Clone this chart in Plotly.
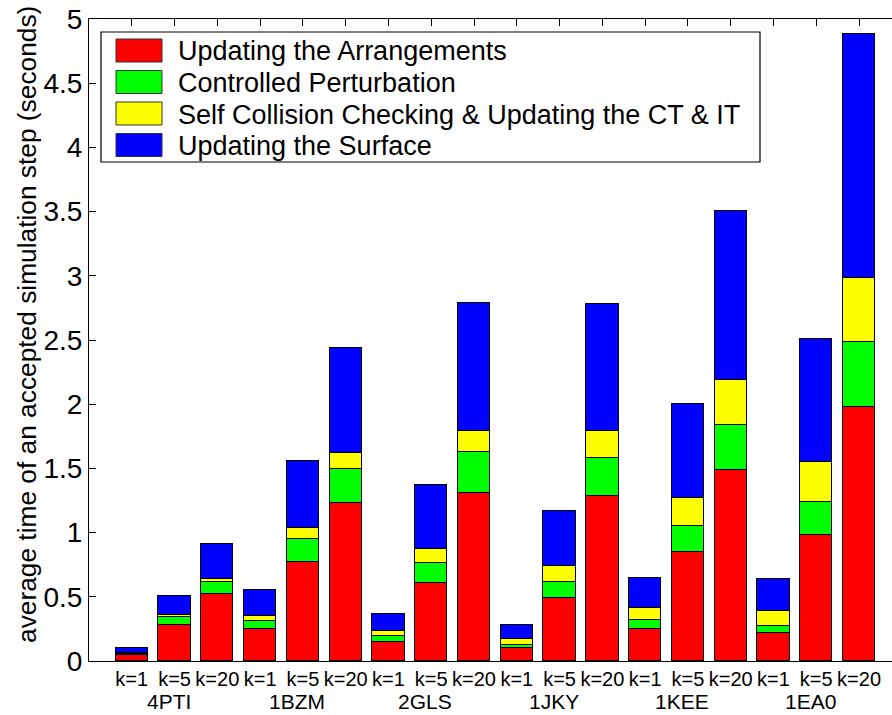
import plotly.graph_objects as go

# Stacked timing breakdown per protein and k value
proteins = ["4PTI", "1BZM", "2GLS", "1JKY", "1KEE", "1EA0"]
k_labels = ["k=1", "k=5", "k=20"]

series_names = [
    "Updating the Arrangements",
    "Controlled Perturbation",
    "Self Collision Checking & Updating the CT & IT",
    "Updating the Surface",
]
series_colors = ["#FF0000", "#00FF00", "#FFFF00", "#0000FF"]

arrangements = [0.044, 0.28, 0.52, 0.25, 0.774, 1.228, 0.15, 0.61, 1.308,
                0.099, 0.491, 1.283, 0.252, 0.851, 1.487, 0.215, 0.981, 1.976]
perturbation = [0.012, 0.06, 0.096, 0.063, 0.176, 0.265, 0.042, 0.156, 0.317,
                0.023, 0.124, 0.298, 0.065, 0.203, 0.351, 0.058, 0.26, 0.506]
collision = [0.01, 0.018, 0.024, 0.04, 0.088, 0.124, 0.042, 0.109, 0.166,
             0.047, 0.122, 0.21, 0.096, 0.215, 0.35, 0.119, 0.306, 0.498]
surface = [0.035, 0.151, 0.272, 0.20, 0.52, 0.818, 0.132, 0.496, 0.995,
           0.109, 0.429, 0.989, 0.231, 0.735, 1.317, 0.244, 0.961, 1.906]

y_tick_vals = [0, 0.5, 1, 1.5, 2, 2.5, 3, 3.5, 4, 4.5, 5]
y_tick_text = ["0", "0.5", "1", "1.5", "2", "2.5", "3", "3.5", "4", "4.5", "5"]
y_title = "average time of an accepted simulation step (seconds)"

FONT = "Liberation Sans, Arial, Helvetica, sans-serif"

positions = list(range(1, len(proteins) * len(k_labels) + 1))
tick_text = k_labels * len(proteins)

fig = go.Figure()
for name, color, values in zip(series_names, series_colors,
                               [arrangements, perturbation, collision, surface]):
    fig.add_trace(go.Bar(
        x=positions, y=values, name=name, width=0.755,
        marker=dict(color=color, line=dict(color="black", width=1)),
        showlegend=False,
    ))

W, H = 892, 715
ML, MR, MT, MB = 89, 0, 19, 54
pw, ph = W - ML - MR, H - MT - MB


def px_x(p):
    return (p - ML) / pw


def px_y(p):
    return (H - MB - p) / ph


shapes = []
annotations = []

# legend frame
shapes.append(dict(type="rect", xref="paper", yref="paper",
                   x0=px_x(101), x1=px_x(760), y0=px_y(162), y1=px_y(32),
                   line=dict(color="black", width=1.2), fillcolor="white",
                   layer="above"))
row_y = [50.5, 82, 113.5, 145]
for name, color, ry in zip(series_names, series_colors, row_y):
    shapes.append(dict(type="rect", xref="paper", yref="paper",
                       x0=px_x(116), x1=px_x(162),
                       y0=px_y(ry + 11.5), y1=px_y(ry - 11.5),
                       line=dict(color="#333333", width=1), fillcolor=color,
                       layer="above"))
    annotations.append(dict(text=name, xref="paper", yref="paper",
                            x=px_x(176), y=px_y(ry + 1), xanchor="left",
                            yanchor="middle", showarrow=False,
                            font=dict(family=FONT, size=27, color="black")))

# protein names beneath each group of three bars
for i, prot in enumerate(proteins):
    annotations.append(dict(text=prot, x=i * 3 + 2, xref="x", yref="paper",
                            y=px_y(701.5), xanchor="center", yanchor="middle",
                            xshift=-6, showarrow=False, borderpad=0,
                            font=dict(family=FONT, size=21, color="black")))

# vertical axis title
annotations.append(dict(text=y_title, xref="paper", yref="paper",
                        x=px_x(27), y=px_y(325), xanchor="center",
                        yanchor="middle", textangle=-90, showarrow=False,
                        font=dict(family=FONT, size=26.3, color="black")))

fig.update_layout(
    width=W, height=H,
    margin=dict(l=ML, r=MR, t=MT, b=MB),
    paper_bgcolor="white", plot_bgcolor="white",
    barmode="stack",
    bargap=0,
    font=dict(family=FONT, color="black"),
    shapes=shapes,
    annotations=annotations,
    xaxis=dict(
        range=[0, 18.77],
        tickmode="array", tickvals=positions, ticktext=tick_text,
        ticks="inside", ticklen=7, tickwidth=1, tickcolor="black",
        showline=True, linecolor="black", linewidth=1, mirror="ticks",
        showgrid=False, zeroline=False,
        tickfont=dict(family=FONT, size=20, color="black"),
        layer="below traces",
    ),
    yaxis=dict(
        range=[0, 5],
        tickmode="array", tickvals=y_tick_vals, ticktext=y_tick_text,
        ticks="inside", ticklen=7, tickwidth=1, tickcolor="black",
        showline=True, linecolor="black", linewidth=1, mirror=False,
        showgrid=False, zeroline=False,
        tickfont=dict(family=FONT, size=28, color="black"),
    ),
)

fig.write_html("out.html")
